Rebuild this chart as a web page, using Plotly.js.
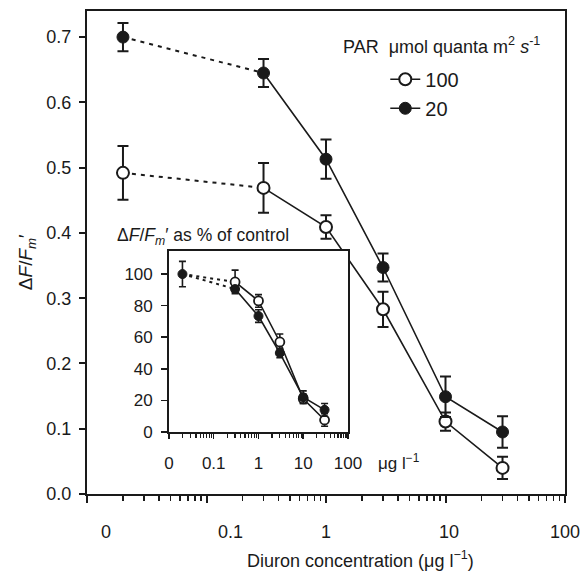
<!DOCTYPE html>
<html>
<head>
<meta charset="utf-8">
<script src="https://cdn.plot.ly/plotly-3.0.1.min.js"></script>
<style>html,body{margin:0;padding:0;background:#fff;}#chart{width:582px;height:577px;}</style>
</head>
<body>
<div id="chart"></div>
<script>
// ---- data ----
const seriesNames = ["100", "20"];
const concentrations = [0.3, 1, 3, 10, 30];       // µg l-1
const controlPosition = [0.02];                   // where the control (0) is drawn
// main panel: ΔF/Fm'
const ctrl100 = [0.492];
const ctrl100Err = [0.041];
const yield100 = [0.469, 0.409, 0.283, 0.111, 0.040];
const yield100Err = [0.038, 0.018, 0.027, 0.014, 0.017];
const ctrl20 = [0.700];
const ctrl20Err = [0.0215];
const yield20 = [0.645, 0.513, 0.347, 0.149, 0.095];
const yield20Err = [0.0215, 0.030, 0.0215, 0.031, 0.024];
// inset: % of control
const pctCtrl = [100];
const pctCtrlErr = [8];
const pct100 = [95, 83, 57, 21, 7.6];
const pct100Err = [7.5, 4, 5, 3, 4];
const pct20 = [90.5, 73.4, 50, 22, 14];
const pct20Err = [2, 4, 3, 4, 4];
// tick labels
const mainXTickText = ["0", "0.1", "1", "10", "100"];
const mainXTickPos = [0.0144, 0.16, 1, 10.7, 100];
const insetXTickText = ["0", "0.1", "1", "10", "100"];
const insetXTickVals = [0.01, 0.1, 1, 10, 100];
const mainYTicks = [0, 0.1, 0.2, 0.3, 0.4, 0.5, 0.6, 0.7];
const insetYTicks = [0, 20, 40, 60, 80, 100];

// ---- styling helpers ----
const INK = "#1a1a1a";
const FONT = "Liberation Sans, Arial, sans-serif";
const majorVals = [0.01, 0.1, 1, 10, 100];
const minorVals = [];
for (let d = 0.01; d < 100; d *= 10) for (let k = 2; k <= 9; k++) minorVals.push(+(k * d).toPrecision(3));

function openMarker(size, lw) { return {symbol: "circle", size: size, color: "#fff", line: {color: INK, width: lw}}; }
function fillMarker(size, lw) { return {symbol: "circle", size: size, color: INK, line: {color: INK, width: lw}}; }
function err(arr, w, t) { return {type: "data", array: arr, visible: true, color: INK, thickness: t, width: w}; }

const traces = [
  // main dotted connectors (control -> first concentration)
  {x: [controlPosition[0], concentrations[0]], y: [ctrl100[0], yield100[0]], mode: "lines",
   line: {color: INK, width: 2, dash: "4px,5px"}, showlegend: false, hoverinfo: "skip"},
  {x: [controlPosition[0], concentrations[0]], y: [ctrl20[0], yield20[0]], mode: "lines",
   line: {color: INK, width: 2, dash: "4px,5px"}, showlegend: false, hoverinfo: "skip"},
  // main series
  {x: concentrations, y: yield100, name: seriesNames[0], mode: "lines+markers",
   line: {color: INK, width: 1.6}, marker: openMarker(12, 2), error_y: err(yield100Err, 5.5, 2)},
  {x: concentrations, y: yield20, name: seriesNames[1], mode: "lines+markers",
   line: {color: INK, width: 1.6}, marker: fillMarker(12, 1), error_y: err(yield20Err, 5.5, 2)},
  // main controls
  {x: controlPosition, y: ctrl100, mode: "markers", marker: openMarker(12, 2),
   error_y: err(ctrl100Err, 5.5, 2), showlegend: false},
  {x: controlPosition, y: ctrl20, mode: "markers", marker: fillMarker(12, 1),
   error_y: err(ctrl20Err, 5.5, 2), showlegend: false},
  // inset
  {x: [controlPosition[0], concentrations[0]], y: [pctCtrl[0], pct100[0]], mode: "lines", xaxis: "x2", yaxis: "y2",
   line: {color: INK, width: 2, dash: "3px,4px"}, showlegend: false},
  {x: [controlPosition[0], concentrations[0]], y: [pctCtrl[0], pct20[0]], mode: "lines", xaxis: "x2", yaxis: "y2",
   line: {color: INK, width: 2, dash: "3px,4px"}, showlegend: false},
  {x: concentrations, y: pct100, mode: "lines+markers", xaxis: "x2", yaxis: "y2",
   line: {color: INK, width: 1.6}, marker: openMarker(9, 1.8), error_y: err(pct100Err, 3.5, 1.6), showlegend: false},
  {x: concentrations, y: pct20, mode: "lines+markers", xaxis: "x2", yaxis: "y2",
   line: {color: INK, width: 1.6}, marker: fillMarker(9, 1), error_y: err(pct20Err, 3.5, 1.6), showlegend: false},
  {x: controlPosition, y: pctCtrl, mode: "markers", xaxis: "x2", yaxis: "y2",
   marker: fillMarker(9, 1), error_y: err(pctCtrlErr, 3.5, 1.6), showlegend: false}
];

const annotations = [];
mainXTickText.forEach((t, i) => annotations.push({
  text: t, xref: "x", x: Math.log10(mainXTickPos[i]), yref: "paper", y: -0.0787,
  xanchor: "center", yanchor: "middle", showarrow: false, font: {size: 18, color: INK}
}));
annotations.push(
  {text: "Diuron concentration (μg l<sup>−1</sup>)", xref: "paper", yref: "paper", x: 0.573, y: -0.1366,
   xanchor: "center", yanchor: "middle", showarrow: false, font: {size: 18, color: INK}},
  {text: "Δ<i>F</i>/<i>F<sub>m</sub></i>′", xref: "paper", yref: "paper", x: -0.1255, y: 0.48,
   xanchor: "center", yanchor: "middle", textangle: -90, showarrow: false, font: {size: 19, color: INK}},
  {text: "PAR  μmol quanta m<sup>2</sup> <i>s</i><sup>-1</sup>", xref: "paper", yref: "paper", x: 0.532, y: 0.9296,
   xanchor: "left", yanchor: "middle", showarrow: false, font: {size: 18, color: INK}},
  {text: "Δ<i>F</i>/<i>F<sub>m</sub></i>′ as % of control", xref: "paper", yref: "paper", x: 0.243, y: 0.534,
   xanchor: "center", yanchor: "middle", showarrow: false, font: {size: 17.5, color: INK}},
  {text: "μg l<sup>−1</sup>", xref: "paper", yref: "paper", x: 0.653, y: 0.066,
   xanchor: "center", yanchor: "middle", showarrow: false, font: {size: 17, color: INK}}
);

const layout = {
  width: 582, height: 577,
  margin: {l: 87, r: 17, t: 11, b: 83},
  paper_bgcolor: "#fff", plot_bgcolor: "#fff",
  font: {family: FONT, color: INK, size: 18},
  showlegend: true,
  legend: {x: 0.624, y: 0.899, xanchor: "left", yanchor: "top", bgcolor: "rgba(0,0,0,0)",
           font: {size: 20, color: INK}, traceorder: "normal", itemwidth: 30},
  xaxis: {type: "log", range: [-2, 2], domain: [0, 1], showgrid: false, zeroline: false,
          showline: true, linecolor: INK, linewidth: 2, mirror: true,
          tickmode: "array", tickvals: majorVals, showticklabels: false,
          ticks: "outside", ticklen: 7, tickwidth: 2, tickcolor: INK,
          minor: {tickmode: "array", tickvals: minorVals, ticks: "outside", ticklen: 5, tickwidth: 1.5, tickcolor: INK, showgrid: false}},
  yaxis: {range: [0, 0.74], domain: [0, 1], showgrid: false, zeroline: false,
          showline: true, linecolor: INK, linewidth: 2, mirror: true,
          tickmode: "array", tickvals: mainYTicks, tickformat: ".1f",
          ticks: "outside", ticklen: 6, tickwidth: 2, tickcolor: INK, ticklabelstandoff: 4,
          tickfont: {size: 18, color: INK}},
  xaxis2: {type: "log", range: [-2, 2], domain: [0.1715, 0.546], anchor: "y2", showgrid: false, zeroline: false,
           showline: true, linecolor: INK, linewidth: 1.8, mirror: true,
           tickmode: "array", tickvals: insetXTickVals, ticktext: insetXTickText,
           ticks: "outside", ticklen: 5, tickwidth: 1.5, tickcolor: INK, ticklabelstandoff: 10,
           tickfont: {size: 17, color: INK},
           minor: {tickmode: "array", tickvals: minorVals, ticks: "outside", ticklen: 4, tickwidth: 1.2, tickcolor: INK, showgrid: false}},
  yaxis2: {range: [0, 114.6], domain: [0.1284, 0.5031], anchor: "x2", showgrid: false, zeroline: false,
           showline: true, linecolor: INK, linewidth: 1.8, mirror: true,
           tickmode: "array", tickvals: insetYTicks,
           ticks: "outside", ticklen: 6, tickwidth: 1.5, tickcolor: INK, ticklabelstandoff: 5,
           tickfont: {size: 17, color: INK}},
  annotations: annotations
};

Plotly.newPlot("chart", traces, layout, {staticPlot: true, displayModeBar: false});
</script>
</body>
</html>
